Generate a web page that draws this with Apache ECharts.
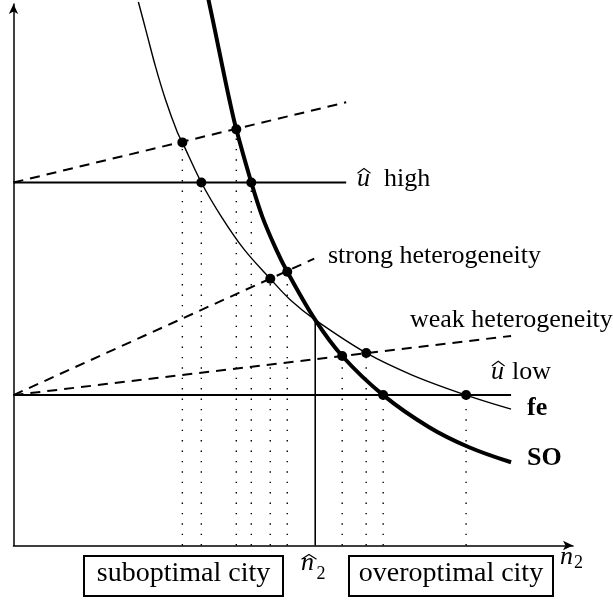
<!DOCTYPE html>
<html><head><meta charset="utf-8">
<script src="https://cdn.jsdelivr.net/npm/echarts@6/dist/echarts.min.js"></script>
<style>html,body{margin:0;padding:0;background:#fff}#c{width:613px;height:603px}</style>
</head><body><div id="c"></div>
<script>
// curves (n2, utility)
const feCurve = [[12.5,54.2],[13.3,51.2],[14.2,47.8],[15.2,44.5],[16.4,41.2],[16.9,40.2],[18.8,36.2],[20.8,32.8],[23.1,29.5],[25.7,26.6],[27.8,24.4],[30.2,22.5],[35.3,19.2],[39.9,17.0],[45.3,15.0],[49.8,13.6]];
const soCurve = [[19.5,54.5],[20.2,51.2],[20.9,47.8],[21.6,44.5],[22.3,41.5],[23.8,36.2],[24.9,32.8],[26.3,29.5],[27.4,27.3],[30.2,22.5],[32.9,18.9],[37.0,15.0],[41.6,11.8],[45.6,9.8],[49.8,8.3]];
const uHigh = [[0,36.2],[33.3,36.2]];
const uLow = [[0,15.0],[49.8,15.0]];
const dashHigh = [[0,36.2],[33.3,44.2]];
const dashStrong = [[0,15.0],[30.1,28.6]];
const dashWeak = [[0,15.0],[49.8,20.9]];
const optimum = [[30.2,0],[30.2,22.5]];
const dots = [[16.9,40.2],[22.3,41.5],[18.8,36.2],[23.8,36.2],[25.7,26.6],[27.4,27.3],[32.9,18.9],[35.3,19.2],[37.0,15.0],[45.3,15.0]];
const curveLabels = ['high','strong heterogeneity','weak heterogeneity','low'];
const boldLabels = ['fe','SO'];
const boxLabels = ['suboptimal city','overoptimal city'];

const chart = echarts.init(document.getElementById('c'), null, {renderer:'canvas'});
const F = '"Liberation Serif", "DejaVu Serif", serif';
const lineBase = {type:'line', symbol:'none', silent:true, clip:false, animation:false};
const series = [];
dots.forEach(d => series.push(Object.assign({}, lineBase, {
  data:[[d[0],0],[d[0],d[1]]], lineStyle:{color:'#000', width:1.4, type:[1.4,9]}
})));
series.push(Object.assign({}, lineBase, {data:optimum, lineStyle:{color:'#000', width:1.6}}));
series.push(Object.assign({}, lineBase, {data:uHigh, lineStyle:{color:'#000', width:2}}));
series.push(Object.assign({}, lineBase, {data:uLow, lineStyle:{color:'#000', width:2}}));
[dashHigh, dashStrong, dashWeak].forEach(d => series.push(Object.assign({}, lineBase, {
  data:d, lineStyle:{color:'#000', width:2, type:[10,7]}
})));
series.push(Object.assign({}, lineBase, {data:feCurve, smooth:0.35, lineStyle:{color:'#000', width:1.4}}));
series.push(Object.assign({}, lineBase, {data:soCurve, smooth:0.35, lineStyle:{color:'#000', width:4}}));
series.push({type:'scatter', data:dots, symbol:'circle', symbolSize:10, itemStyle:{color:'#000', opacity:1},
  emphasis:{disabled:true}, silent:true, clip:false, animation:false, z:10});

function txt(s, x, y, font, align) {
  return {type:'text', style:{text:s, x:x, y:y, fill:'#000', font:font, verticalAlign:'middle', align:align || 'left'}};
}
function hat(x0, x1, yTop, yBot) {
  return {type:'polyline', shape:{points:[[x0,yBot],[(x0+x1)/2,yTop],[x1,yBot]]},
    style:{stroke:'#000', lineWidth:1.1, fill:null}};
}
const rm = (sz) => sz + 'px ' + F;
const it = (sz) => 'italic ' + sz + 'px ' + F;
const bd = (sz) => 'bold ' + sz + 'px ' + F;
const graphic = [
  txt('u', 357, 178.9, it(26)), hat(357.5, 370.5, 168.5, 173.3),
  txt(curveLabels[0], 384, 178.9, rm(26)),
  txt(curveLabels[1], 328, 256, rm(26)),
  txt(curveLabels[2], 410, 320, rm(26)),
  txt('u', 491, 371.7, it(26)), hat(491.8, 504.6, 361.2, 366),
  txt(curveLabels[3], 512, 371.7, rm(26)),
  txt(boldLabels[0], 527, 408, bd(26)),
  txt(boldLabels[1], 527, 458.5, bd(26)),
  {type:'rect', shape:{x:84, y:556, width:199, height:40}, style:{fill:'#fff', stroke:'#000', lineWidth:2}},
  {type:'rect', shape:{x:349, y:556, width:204, height:40}, style:{fill:'#fff', stroke:'#000', lineWidth:2}},
  txt(boxLabels[0], 183.5, 574, rm(28), 'center'),
  txt(boxLabels[1], 451, 574, rm(28), 'center'),
  txt('n', 301, 563.5, it(26)), hat(301.5, 316.5, 554.5, 559.3),
  txt('2', 316.5, 574, rm(18)),
  txt('n', 560, 557, it(26)),
  txt('2', 574, 563, rm(18))
];

chart.setOption({
  animation:false,
  grid:{left:13.5, right:40, top:4, bottom:57.5, containLabel:false, outerBoundsMode:'none'},
  xAxis:{type:'value', min:0, max:56, axisLine:{onZero:false, lineStyle:{color:'#000', width:1.5}, symbol:['none','arrow'], symbolSize:[7,10]},
    axisTick:{show:false}, axisLabel:{show:false}, splitLine:{show:false}},
  yAxis:{type:'value', min:0, max:54, axisLine:{onZero:false, lineStyle:{color:'#000', width:1.5}, symbol:['none','arrow'], symbolSize:[7,10]},
    axisTick:{show:false}, axisLabel:{show:false}, splitLine:{show:false}},
  series:series,
  graphic:graphic
});
</script></body></html>
